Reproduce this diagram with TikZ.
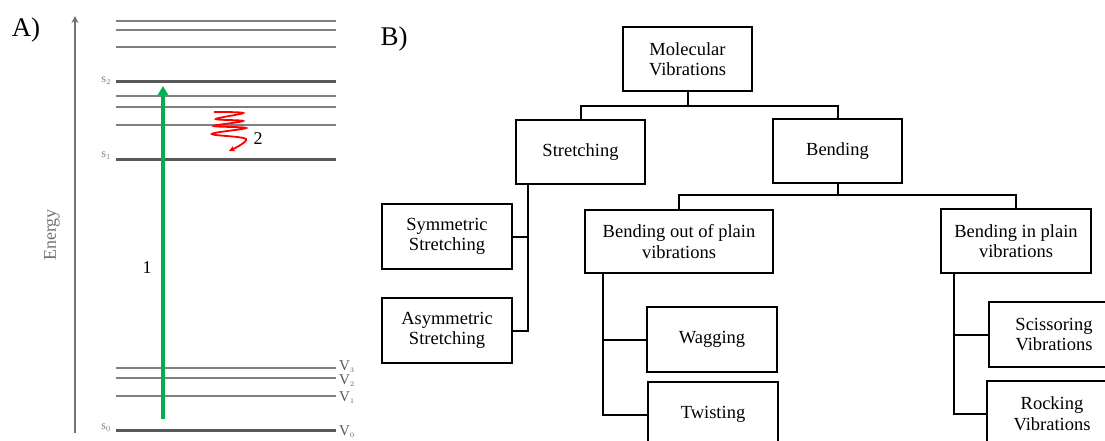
\documentclass[tikz,border=0pt]{standalone}
\usepackage{fontspec}
\setmainfont{Liberation Serif}
\usetikzlibrary{arrows.meta,calc}
\tikzset{
  vbox/.style={draw, line width=2pt, align=center, inner sep=0pt,
    font=\fontsize{18.5}{20.5}\selectfont},
  conn/.style={line width=2pt},
  lvl/.style={line width=2pt, draw=black!50},
  slvl/.style={line width=3pt, draw=black!65},
  slab/.style={text=black!50, font=\fontsize{12}{12}\selectfont, anchor=east, inner sep=1pt},
  vlab/.style={text=black!65, font=\fontsize{15}{15}\selectfont, anchor=west, inner sep=0pt},
}
\begin{document}
\begin{tikzpicture}[x=1pt,y=-1pt]
\useasboundingbox (0,0) rectangle (1105,441);
\fill[white] (0,0) rectangle (1105,441);

% ---------------- Part A ----------------
\node[font=\fontsize{27}{27}\selectfont] (labA) at (26,30) {A)};
\coordinate (ax0) at (75,433);
\coordinate (ax1) at (75,16);
\draw[line width=2.2pt, draw=black!55, -{Stealth[length=7pt,width=7pt]}] (ax0) -- (ax1);
\node[rotate=90, text=black!55, font=\fontsize{18}{18}\selectfont] (energy) at (52,235) {Energy};

\foreach \y in {21,30,47,96,107,125,368,378,396}{
  \draw[lvl] (116,\y) -- (336,\y);
}
\foreach \y in {82,159,430}{
  \draw[slvl] (116,\y) -- (336,\y);
}
\node[slab] (s2) at (112,81) {s$_2$};
\node[slab] (s1) at (112,156) {s$_1$};
\node[slab] (s0) at (112,428) {s$_0$};
\node[vlab] (v3) at (339,367) {V$_{\scriptscriptstyle 3}$};
\node[vlab] (v2) at (339,381) {V$_{\scriptscriptstyle 2}$};
\node[vlab] (v1) at (339,398) {V$_{\scriptscriptstyle 1}$};
\node[vlab] (v0) at (339,432) {V$_{\scriptscriptstyle 0}$};

\coordinate (g0) at (163,419);
\coordinate (g1) at (163,86);
\draw[line width=3.2pt, draw={rgb,255:red,0;green,176;blue,80}, -{Triangle[length=9pt,width=10pt]}] (g0) -- (g1);
\node[font=\fontsize{18}{18}\selectfont] (one) at (147,268) {1};

\draw[red, line width=1.8pt, -{Stealth[length=6pt,width=6pt]}]
  plot[smooth, tension=0.6] coordinates {(214,112) (243,113) (216,119) (243,121) (214,126) (246,128) (212,134) (246,139) (229,151)};
\node[font=\fontsize{18}{18}\selectfont] (two) at (258,139) {2};

% ---------------- Part B ----------------
\node[font=\fontsize{27}{27}\selectfont] (labB) at (394,39) {B)};

\node[vbox, minimum width=129pt, minimum height=64pt] (mol) at (687.5,59) {Molecular\\Vibrations};
\node[vbox, minimum width=129pt, minimum height=64pt] (str) at (580.5,152) {Stretching};
\node[vbox, minimum width=129pt, minimum height=64pt] (ben) at (837.5,151) {Bending};
\node[vbox, minimum width=130pt, minimum height=65pt] (sym) at (447,236.5) {Symmetric\\Stretching};
\node[vbox, minimum width=130pt, minimum height=65pt] (asym) at (447,330.5) {Asymmetric\\Stretching};
\node[vbox, minimum width=188pt, minimum height=63pt] (bop) at (679,241.5) {Bending out of plain\\vibrations};
\node[vbox, minimum width=150pt, minimum height=64pt] (bip) at (1016,241) {Bending in plain\\vibrations};
\node[vbox, minimum width=130pt, minimum height=65pt] (wag) at (712,339.5) {Wagging};
\node[vbox, minimum width=130pt, minimum height=65pt] (twi) at (713,414.5) {Twisting};
\node[vbox, minimum width=130pt, minimum height=65pt] (sci) at (1054,334.5) {Scissoring\\Vibrations};
\node[vbox, minimum width=130pt, minimum height=65pt] (roc) at (1052,413.5) {Rocking\\Vibrations};

% connectors
\coordinate (j1) at ($(mol.south)+(0,14)$);
\draw[conn] (mol.south) -- (j1);
\draw[conn] (str.north) |- (j1) -| (ben.north);

\coordinate (j2) at ($(ben.south)+(0,11)$);
\draw[conn] (ben.south) -- (j2);
\draw[conn] (bop.north) |- (j2) -| (bip.north);

\coordinate (st) at ($(str.south west)+(13,0)$);
\draw[conn] (st) |- (asym.east);
\draw[conn] (sym.east) -| (st);

\coordinate (bt) at ($(bop.south west)+(19,0)$);
\draw[conn] (bt) |- (twi.west);
\draw[conn] (wag.west) -| (bt);

\coordinate (it) at ($(bip.south west)+(14,0)$);
\draw[conn] (it) |- (roc.west);
\draw[conn] (sci.west) -| (it);
\end{tikzpicture}
\end{document}
